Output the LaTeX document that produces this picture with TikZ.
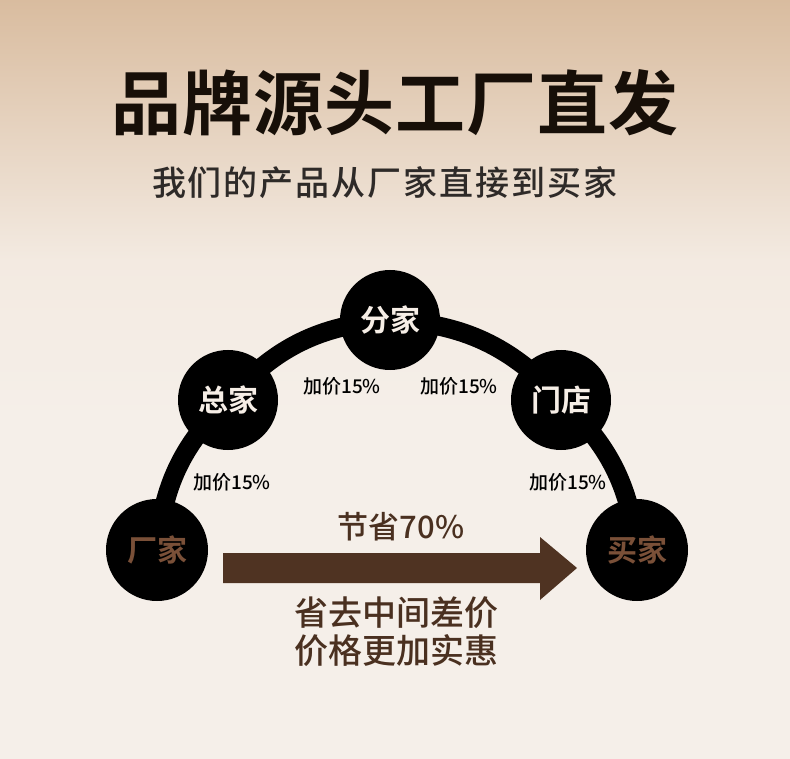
\documentclass[tikz,border=0pt]{standalone}
\usepackage{fontspec}
\newfontfamily\cjk{Noto Sans CJK SC}
\newfontfamily\cjkm{Noto Sans CJK SC Medium}
\newfontfamily\cjkb{Noto Sans CJK SC Bold}
\usetikzlibrary{backgrounds}
\definecolor{topbg}{HTML}{D9BC9F}
\definecolor{midbg}{HTML}{F3EAE1}
\definecolor{lowbg}{HTML}{F5EFE9}
\definecolor{brownarrow}{HTML}{4F3322}
\definecolor{browntext}{HTML}{4A3020}
\definecolor{endtext}{HTML}{7A5038}
\definecolor{cream}{HTML}{F6EEE6}
\definecolor{subgray}{HTML}{2E2A28}
\tikzset{
  stage/.style={circle, fill=black, minimum size=102pt, inner sep=0pt, font=\cjkb\fontsize{30}{30}\selectfont, text=cream},
  endstage/.style={stage, text=endtext},
  link/.style={line width=19pt, black},
  markup/.style={font=\cjkm\fontsize{19}{19}\selectfont, text=black},
  bigline/.style={font=\cjkm\fontsize{34}{38}\selectfont, text=browntext, align=center}
}
\begin{document}
\begin{tikzpicture}[x=1pt,y=-1pt]
\useasboundingbox (0,0) rectangle (790,759);
% stages
\node[endstage] (f) at (157,550) {厂家};
\node[stage, minimum size=100pt] (z) at (228,400) {总家};
\node[stage, minimum size=100pt] (fen) at (390,320) {分家};
\node[stage, minimum size=100pt] (m) at (561,400) {门店};
\node[endstage] (b) at (637,550) {买家};
\begin{scope}[on background layer]
% background
\shade[top color=topbg, bottom color=midbg] (0,0) rectangle (790,260);
\fill[lowbg] (0,259.5) rectangle (790,759);
\shade[top color=midbg, bottom color=lowbg] (0,259.5) rectangle (790,420);
% connectors
\draw[link] (f.center) to[bend left=20] (z.center);
\draw[link] (z.center) to[bend left=22] (fen.center);
\draw[link] (fen.center) to[bend left=22] (m.center);
\draw[link] (m.center) to[bend left=20] (b.center);
\end{scope}
% title
\node[font=\cjkb\fontsize{70}{70}\selectfont, text=black!88!brown, inner sep=0pt] (title) at (395,103) {品\kern1pt 牌\kern1pt 源\kern1pt 头\kern1pt 工\kern1pt 厂\kern1pt 直\kern1pt 发};
\node[font=\cjkm\fontsize{34}{34}\selectfont, text=subgray, inner sep=0pt] (sub) at (385,183) {我\kern2pt 们\kern2pt 的\kern2pt 产\kern2pt 品\kern2pt 从\kern2pt 厂\kern2pt 家\kern2pt 直\kern2pt 接\kern2pt 到\kern2pt 买\kern2pt 家};
% labels
\node[markup] (l1) at (342,386) {加价15\%};
\node[markup] (l2) at (459,386) {加价15\%};
\node[markup] (l3) at (232,482) {加价15\%};
\node[markup] (l4) at (568,482) {加价15\%};
% arrow
\node[font=\cjkm\fontsize{31}{31}\selectfont, text=browntext] (save) at (401,527) {节省70\%};
\fill[brownarrow] (223,553) -- (540,553) -- (540,537) -- (577,568) -- (540,600) -- (540,583) -- (223,583) -- cycle;
\node[bigline] (txt) at (396,632) {省去中间差价\\价格更加实惠};
\end{tikzpicture}
\end{document}
